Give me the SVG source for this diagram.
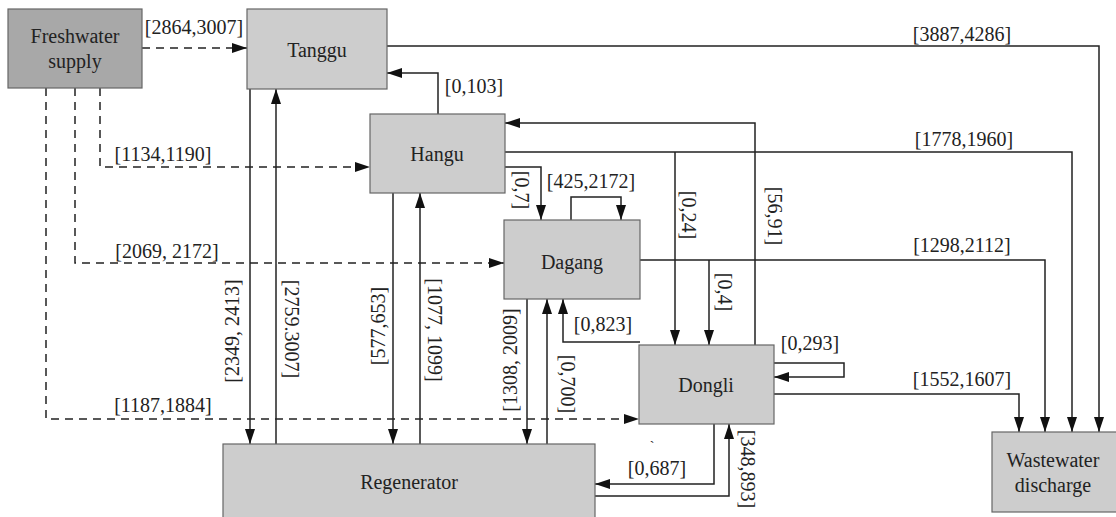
<svg xmlns="http://www.w3.org/2000/svg" width="1116" height="517" viewBox="0 0 1116 517">
<defs>
<marker id="ah" markerUnits="userSpaceOnUse" markerWidth="15" markerHeight="10" refX="15" refY="5" orient="auto">
<path d="M0,0 L15,5 L0,10 z" fill="#111"/>
</marker>
<style>
.node{fill:#cdcdcd;stroke:#666;stroke-width:1.2}
.fresh{fill:#a8a8a8;stroke:#666;stroke-width:1.2}
.nt{font-family:"Liberation Serif","Times New Roman",serif;font-size:20px;fill:#222;text-anchor:middle;dominant-baseline:central}
.lb{font-family:"Liberation Serif","Times New Roman",serif;font-size:20px;fill:#222;text-anchor:middle;dominant-baseline:central}
.c{fill:none;stroke:#222;stroke-width:1.5}
.a{marker-end:url(#ah)}
.d{stroke-dasharray:8,6}
</style>
</defs>
<rect width="1116" height="517" fill="#fff"/>

<g id="connectors">
<!-- freshwater dashed -->
<path class="c d a" d="M142,48 H247"/>
<path class="c d a" d="M100,88 V167 H370"/>
<path class="c d a" d="M75,88 V263 H504"/>
<path class="c d a" d="M46,88 V419 H639"/>
<!-- to wastewater -->
<path class="c a" d="M387,46 H1099 V432"/>
<path class="c a" d="M505,152 H1072 V432"/>
<path class="c a" d="M640,260 H1045 V432"/>
<path class="c a" d="M774,394 H1019 V432"/>
<!-- Hangu -> Tanggu -->
<path class="c a" d="M438,114 V73 H387"/>
<!-- Dongli -> Hangu -->
<path class="c a" d="M755,345 V123 H505"/>
<!-- Hangu -> Dongli -->
<path class="c a" d="M675,152 V345"/>
<!-- Hangu -> Dagang -->
<path class="c a" d="M505,167 H541 V220"/>
<!-- Dagang self loop -->
<path class="c a" d="M571,220 V197 H621 V220"/>
<!-- Dagang -> Dongli -->
<path class="c a" d="M709,260 V345"/>
<!-- Dongli -> Dagang -->
<path class="c a" d="M640,342 H563 V299"/>
<!-- Dagang <-> Regenerator -->
<path class="c a" d="M527,299 V444"/>
<path class="c a" d="M547,444 V299"/>
<!-- Tanggu <-> Regenerator -->
<path class="c a" d="M250,89 V444"/>
<path class="c a" d="M276,444 V89"/>
<!-- Hangu <-> Regenerator -->
<path class="c a" d="M393,193 V444"/>
<path class="c a" d="M420,444 V193"/>
<!-- Dongli <-> Regenerator -->
<path class="c a" d="M714,424 V484 H595"/>
<path class="c a" d="M595,496 H729 V424"/>
<!-- Dongli self loop -->
<path class="c a" d="M774,363 H844 V377 H774"/>

<!-- labels -->
<text class="lb" x="194" y="27">[2864,3007]</text>
<text class="lb" x="163" y="154">[1134,1190]</text>
<text class="lb" x="167" y="251">[2069, 2172]</text>
<text class="lb" x="163" y="405">[1187,1884]</text>
<text class="lb" x="962" y="34">[3887,4286]</text>
<text class="lb" x="964" y="139">[1778,1960]</text>
<text class="lb" x="962" y="245">[1298,2112]</text>
<text class="lb" x="962" y="379">[1552,1607]</text>
<text class="lb" x="474" y="86">[0,103]</text>
<text class="lb" x="591" y="181">[425,2172]</text>
<text class="lb" x="603" y="324">[0,823]</text>
<text class="lb" x="810" y="343">[0,293]</text>
<text class="lb" x="657" y="468">[0,687]</text>
<text class="lb" x="652" y="446" style="font-size:14px">`</text>
<text class="lb" transform="translate(232,331) rotate(-90)">[2349, 2413]</text>
<text class="lb" transform="translate(292,329) rotate(90)">[2759.3007]</text>
<text class="lb" transform="translate(378,326) rotate(-90)">[577,653]</text>
<text class="lb" transform="translate(435,330) rotate(90)">[1077, 1099]</text>
<text class="lb" transform="translate(510,360) rotate(-90)">[1308, 2009]</text>
<text class="lb" transform="translate(568,384) rotate(90)">[0,700]</text>
<text class="lb" transform="translate(522,190) rotate(90)">[0,7]</text>
<text class="lb" transform="translate(689,215) rotate(90)">[0,24]</text>
<text class="lb" transform="translate(775,216) rotate(90)">[56,91]</text>
<text class="lb" transform="translate(725,292) rotate(90)">[0,4]</text>
<text class="lb" transform="translate(748,469) rotate(90)">[348,893]</text>
</g>

<g id="freshwater">
<rect class="fresh" x="8" y="9" width="134" height="79"/>
<text class="nt" x="75" y="36">Freshwater</text>
<text class="nt" x="75" y="61">supply</text>
</g>
<g id="tanggu">
<rect class="node" x="247" y="9" width="140" height="80"/>
<text class="nt" x="317" y="50">Tanggu</text>
</g>
<g id="hangu">
<rect class="node" x="370" y="114" width="135" height="79"/>
<text class="nt" x="437" y="154">Hangu</text>
</g>
<g id="dagang">
<rect class="node" x="504" y="220" width="136" height="79"/>
<text class="nt" x="572" y="262">Dagang</text>
</g>
<g id="dongli">
<rect class="node" x="639" y="345" width="135" height="79"/>
<text class="nt" x="706" y="385">Dongli</text>
</g>
<g id="regenerator">
<rect class="node" x="223" y="444" width="372" height="80"/>
<text class="nt" x="409" y="482">Regenerator</text>
</g>
<g id="wastewater">
<rect class="node" x="992" y="432" width="130" height="80"/>
<text class="nt" x="1053" y="460">Wastewater</text>
<text class="nt" x="1053" y="485">discharge</text>
</g>
</svg>
